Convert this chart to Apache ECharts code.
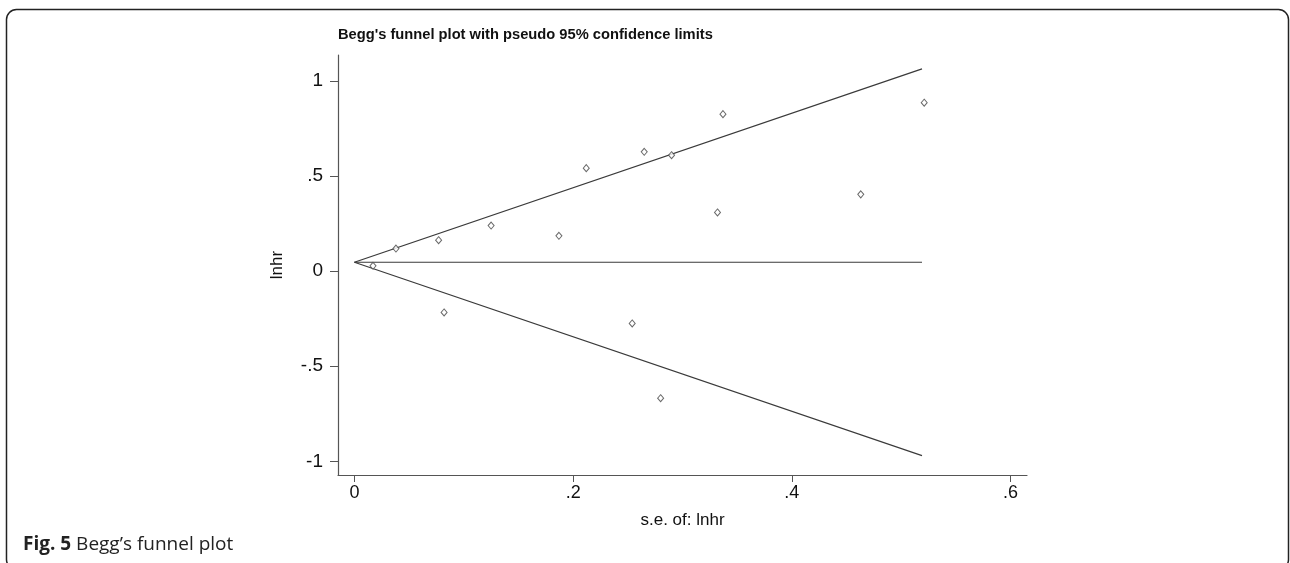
<!DOCTYPE html>
<html>
<head>
<meta charset="utf-8">
<script src="https://cdn.jsdelivr.net/npm/echarts@6/dist/echarts.min.js"></script>
<style>
  html, body { margin: 0; padding: 0; background: #fff; }
  #main { width: 1290px; height: 563px; }
</style>
</head>
<body>
<div id="main"></div>
<script>
// standard errors and log hazard ratios of the studies
const seValues   = [0.017, 0.038, 0.077, 0.082, 0.125, 0.187, 0.212, 0.254, 0.265, 0.280, 0.290, 0.332, 0.337, 0.463, 0.521];
const lnhrValues = [0.028, 0.119, 0.163, -0.217, 0.240, 0.186, 0.542, -0.275, 0.628, -0.668, 0.610, 0.309, 0.826, 0.404, 0.886];

// pseudo 95% confidence limits (end points)
const upperLimit = [[0, 0.047], [0.519, 1.064]];
const lowerLimit = [[0, 0.047], [0.519, -0.970]];
const pooledLine = [[0, 0.047], [0.519, 0.047]];

const xTicks = [0, 0.2, 0.4, 0.6];
const yTicks = [-1, -0.5, 0, 0.5, 1];

function stataLabel(v) {
  if (v === 0) return '0';
  let s = String(v);
  return s.replace('0.', '.');
}

let myChart = echarts.init(document.getElementById('main'));

const points = seValues.map((s, i) => [s, lnhrValues[i]]);
const lineStyle = { color: '#3a3a3a', width: 1.2 };

let option = {
  backgroundColor: '#fff',
  animation: false,
  textStyle: { fontFamily: 'Liberation Sans' },
  title: [
    {
      text: "Begg's funnel plot with pseudo 95% confidence limits",
      left: 333,
      top: 22,
      textStyle: { fontFamily: 'Liberation Sans', fontSize: 14.7, fontWeight: 'bold', color: '#111' }
    },
    {
      text: '{b|Fig. 5} Begg\u2019s funnel plot',
      left: 18,
      top: 530,
      textStyle: {
        fontFamily: 'Open Sans', fontSize: 19, fontWeight: 'normal', color: '#222',
        rich: { b: { fontFamily: 'Open Sans', fontSize: 19, fontWeight: 'bold', color: '#222' } }
      }
    }
  ],
  graphic: [
    {
      type: 'rect',
      shape: { x: 6.5, y: 9.5, width: 1282, height: 560, r: 10 },
      style: { fill: 'none', stroke: '#222', lineWidth: 1.5 },
      silent: true
    }
  ],
  grid: { left: 338, right: 263, top: 55, bottom: 88 },
  xAxis: {
    type: 'value',
    min: -0.015,
    max: 0.615,
    name: 's.e. of: lnhr',
    nameLocation: 'middle',
    nameGap: 37,
    nameTextStyle: { fontFamily: 'Liberation Sans', fontSize: 17, color: '#111' },
    axisLine: { onZero: false, lineStyle: { color: '#555', width: 1.2 } },
    axisTick: { show: true, length: 7, customValues: xTicks, lineStyle: { color: '#555' } },
    axisLabel: {
      customValues: xTicks, margin: 9, fontSize: 18, color: '#111',
      formatter: stataLabel
    },
    splitLine: { show: false }
  },
  yAxis: {
    type: 'value',
    min: -1.072,
    max: 1.137,
    name: 'lnhr',
    nameLocation: 'middle',
    nameRotate: 90,
    nameGap: 52,
    nameTextStyle: { fontFamily: 'Liberation Sans', fontSize: 17, color: '#111' },
    axisLine: { show: true, onZero: false, lineStyle: { color: '#555', width: 1.2 } },
    axisTick: { show: true, length: 8, customValues: yTicks, lineStyle: { color: '#555' } },
    axisLabel: {
      customValues: yTicks, margin: 15, fontSize: 19, color: '#111',
      formatter: stataLabel
    },
    splitLine: { show: false }
  },
  series: [
    {
      name: 'upper limit', type: 'line', data: upperLimit,
      symbol: 'none', lineStyle: lineStyle, z: 2
    },
    {
      name: 'lower limit', type: 'line', data: lowerLimit,
      symbol: 'none', lineStyle: lineStyle, z: 2
    },
    {
      name: 'pooled', type: 'line', data: pooledLine,
      symbol: 'none', lineStyle: lineStyle, z: 2
    },
    {
      name: 'studies', type: 'scatter', data: points,
      symbol: 'diamond', symbolSize: [6, 7],
      itemStyle: { color: '#fff', borderColor: '#444', borderWidth: 1 },
      z: 3
    }
  ]
};

myChart.setOption(option);
</script>
</body>
</html>
